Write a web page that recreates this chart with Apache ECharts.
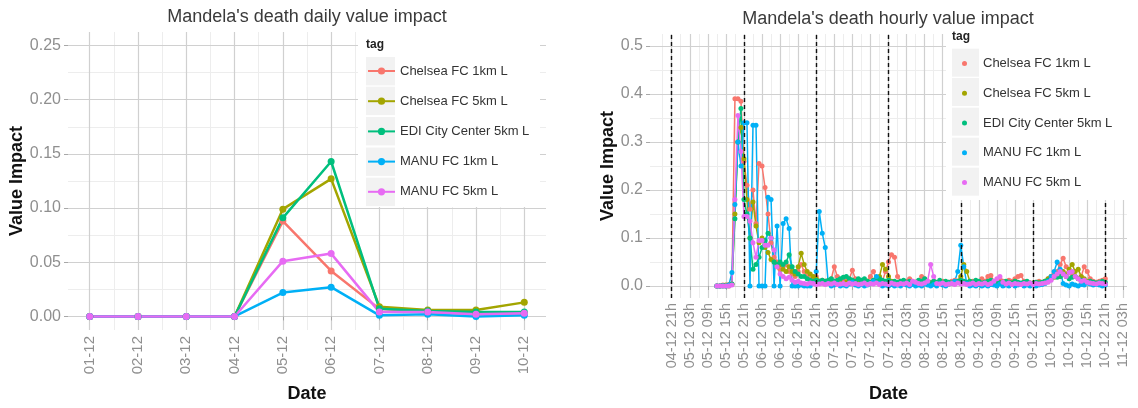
<!DOCTYPE html>
<html>
<head>
<meta charset="utf-8">
<script src="https://cdn.jsdelivr.net/npm/echarts@6/dist/echarts.min.js"></script>
<style>html,body{margin:0;padding:0;background:#fff}#chart{width:1138px;height:408px}</style>
</head>
<body>
<div id="chart"></div>
<script>
// ---- shared series meta ----
const seriesNames = ['Chelsea FC 1km L', 'Chelsea FC 5km L', 'EDI City Center 5km L', 'MANU FC 1km L', 'MANU FC 5km L'];
const seriesColors = ['#F8766D', '#A3A500', '#00BF7D', '#00B0F6', '#E76BF3'];

// ---- daily panel ----
const dailyLabels = ['01-12', '02-12', '03-12', '04-12', '05-12', '06-12', '07-12', '08-12', '09-12', '10-12'];
const dailyChelsea1km = [0, 0, 0, 0, 0.088, 0.042, 0.007, 0.004, 0.002, 0.003];
const dailyChelsea5km = [0, 0, 0, 0, 0.099, 0.127, 0.009, 0.006, 0.006, 0.013];
const dailyEdi5km     = [0, 0, 0, 0, 0.091, 0.143, 0.007, 0.005, 0.004, 0.004];
const dailyManu1km    = [0, 0, 0, 0, 0.022, 0.027, 0.001, 0.002, 0.000, 0.001];
const dailyManu5km    = [0, 0, 0, 0, 0.051, 0.058, 0.004, 0.004, 0.002, 0.003];
const dailyValueTicks = [0, 0.05, 0.10, 0.15, 0.20, 0.25];

// ---- hourly panel (hours counted from 04-12 00h) ----
const hourlyTickHours = [21, 27, 33, 39, 45, 51, 57, 63, 69, 75, 81, 87, 93, 99, 105, 111, 117, 123, 129, 135, 141, 147, 153, 159, 165, 171];
const hourlyTickLabels = ['04-12 21h', '05-12 03h', '05-12 09h', '05-12 15h', '05-12 21h', '06-12 03h', '06-12 09h', '06-12 15h',
  '06-12 21h', '07-12 03h', '07-12 09h', '07-12 15h', '07-12 21h', '08-12 03h', '08-12 09h', '08-12 15h', '08-12 21h',
  '09-12 03h', '09-12 09h', '09-12 15h', '09-12 21h', '10-12 03h', '10-12 09h', '10-12 15h', '10-12 21h', '11-12 03h'];
const deathMarkHours = [21, 45, 69, 93, 117, 141, 165];
const hourlyValueTicks = [0, 0.1, 0.2, 0.3, 0.4, 0.5];
const hourlyFirstHour = 36;

const hourlyChelsea1km = [
  0, 0, 0.002, 0, 0.003, 0.004,
  0.39, 0.39, 0.385, 0.26, 0.21, 0.16,
  0.20, 0.13, 0.255, 0.25, 0.205, 0.15,
  0.09, 0.06, 0.05, 0.035, 0.04, 0.045,
  0.03, 0.025, 0.02, 0.03, 0.045, 0.03,
  0.02, 0.015, 0.01, 0.02, 0.01, 0.012,
  0.01, 0.008, 0.015, 0.04, 0.02, 0.01,
  0.012, 0.01, 0.015, 0.033, 0.015, 0.01,
  0.008, 0.012, 0.01, 0.02, 0.03, 0.012,
  0.015, 0.01, 0.03, 0.05, 0.065, 0.06,
  0.02, 0.01, 0.008, 0.01, 0.015, 0.01,
  0.008, 0.01, 0.02, 0.015, 0.01, 0.008,
  0.01, 0.005, 0.008, 0.01, 0.006, 0.008,
  0.01, 0.012, 0.008, 0.015, 0.01, 0.005,
  0.008, 0.01, 0.006, 0.008, 0.015, 0.01,
  0.02, 0.022, 0.01, 0.008, 0.015, 0.01,
  0.008, 0.012, 0.01, 0.015, 0.02, 0.022,
  0.01, 0.008, 0.006, 0.005, 0.008, 0.01,
  0.008, 0.01, 0.015, 0.02, 0.025, 0.03,
  0.045, 0.058, 0.04, 0.03, 0.025, 0.02,
  0.015, 0.02, 0.04, 0.03, 0.015, 0.01,
  0.008, 0.01, 0.012, 0.015
];
const hourlyChelsea5km = [
  0, 0, 0, 0.002, 0, 0.003,
  0.15, 0.30, 0.33, 0.265, 0.18, 0.10,
  0.175, 0.125, 0.09, 0.10, 0.08, 0.07,
  0.055, 0.05, 0.04, 0.045, 0.035, 0.03,
  0.04, 0.03, 0.025, 0.04, 0.068, 0.045,
  0.03, 0.025, 0.02, 0.015, 0.01, 0.008,
  0.005, 0.006, 0.008, 0.005, 0.01, 0.006,
  0.004, 0.008, 0.006, 0.01, 0.005, 0.008,
  0.006, 0.005, 0.01, 0.008, 0.012, 0.015,
  0.02, 0.045, 0.035, 0.02, 0.01, 0.008,
  0.006, 0.005, 0.008, 0.004, 0.006, 0.005,
  0.004, 0.006, 0.005, 0.008, 0.006, 0.005,
  0.006, 0.004, 0.005, 0.008, 0.006, 0.004,
  0.005, 0.008, 0.01, 0.02, 0.045, 0.03,
  0.01, 0.008, 0.006, 0.005, 0.004, 0.006,
  0.005, 0.004, 0.006, 0.005, 0.008, 0.006,
  0.005, 0.008, 0.006, 0.01, 0.005, 0.004,
  0.006, 0.005, 0.004, 0.006, 0.005, 0.008,
  0.006, 0.01, 0.015, 0.02, 0.018, 0.025,
  0.02, 0.03, 0.025, 0.035, 0.045, 0.03,
  0.035, 0.02, 0.015, 0.01, 0.008, 0.006,
  0.005, 0.006, 0.004, 0.005
];
const hourlyEdi5km = [
  0, 0, 0.001, 0, 0.002, 0.004,
  0.14, 0.30, 0.37, 0.18, 0.15, 0.10,
  0.035, 0.045, 0.06, 0.08, 0.095, 0.11,
  0.10, 0.05, 0.045, 0.05, 0.045, 0.05,
  0.065, 0.04, 0.03, 0.025, 0.02, 0.02,
  0.015, 0.012, 0.01, 0.012, 0.01, 0.012,
  0.01, 0.012, 0.015, 0.01, 0.012, 0.015,
  0.018, 0.02, 0.015, 0.012, 0.01, 0.015,
  0.012, 0.015, 0.01, 0.008, 0.012, 0.01,
  0.015, 0.012, 0.01, 0.012, 0.008, 0.01,
  0.008, 0.01, 0.012, 0.008, 0.01, 0.006,
  0.008, 0.012, 0.01, 0.015, 0.008, 0.006,
  0.01, 0.008, 0.012, 0.006, 0.01, 0.008,
  0.006, 0.008, 0.01, 0.012, 0.01, 0.008,
  0.01, 0.008, 0.012, 0.01, 0.006, 0.008,
  0.01, 0.012, 0.008, 0.01, 0.006, 0.008,
  0.01, 0.008, 0.006, 0.01, 0.008, 0.006,
  0.008, 0.01, 0.006, 0.005, 0.008, 0.006,
  0.008, 0.01, 0.012, 0.015, 0.02, 0.018,
  0.02, 0.025, 0.02, 0.015, 0.018, 0.02,
  0.015, 0.012, 0.01, 0.008, 0.01, 0.008,
  0.006, 0.008, 0.01, 0.008
];
const hourlyManu1km = [
  0, 0, 0, 0, 0.002, 0.028,
  0.17, 0.30, 0.25, 0.34, 0.34, 0,
  0.335, 0.335, 0, 0, 0, 0.185,
  0.18, 0, 0.125, 0, 0.13, 0.14,
  0.12, 0, 0, 0, 0.002, 0,
  0, 0, 0.005, 0.03, 0.155, 0.11,
  0.08, 0.005, 0, 0.002, 0.004, 0,
  0.002, 0, 0.004, 0.008, 0.002, 0,
  0.003, 0, 0.002, 0.005, 0.01, 0.02,
  0.005, 0, 0.002, 0, 0.003, 0,
  0.002, 0, 0.004, 0.002, 0, 0.003,
  0, 0.002, 0, 0.004, 0.002, 0,
  0.003, 0, 0.005, 0.002, 0, 0.004,
  0.005, 0.01, 0.03, 0.085, 0.04, 0.005,
  0, 0.002, 0, 0.003, 0, 0.002,
  0, 0.003, 0.002, 0, 0.004, 0,
  0.002, 0, 0.003, 0, 0.002, 0.004,
  0, 0.002, 0, 0.003, 0, 0.002,
  0.003, 0.005, 0.01, 0.02, 0.03, 0.05,
  0.035, 0.005, 0.002, 0, 0.004, 0.002,
  0, 0.003, 0.002, 0.006, 0.004, 0.002,
  0.003, 0.002, 0, 0.002
];
const hourlyManu5km = [
  0, 0, 0, 0, 0, 0.002,
  0.18, 0.355, 0.28, 0.145, 0.145, 0.135,
  0.09, 0.06, 0.095, 0.095, 0.085, 0.085,
  0.10, 0.075, 0.04, 0.025, 0.02, 0.015,
  0.018, 0.012, 0.008, 0.01, 0.006, 0.005,
  0.004, 0.006, 0.005, 0.003, 0.004, 0.005,
  0.003, 0.005, 0.004, 0.006, 0.003, 0.004,
  0.005, 0.003, 0.006, 0.004, 0.005, 0.003,
  0.004, 0.006, 0.003, 0.005, 0.004, 0.006,
  0.003, 0.005, 0.004, 0.003, 0.006, 0.004,
  0.003, 0.005, 0.004, 0.006, 0.003, 0.01,
  0.008, 0.005, 0.004, 0.006, 0.01, 0.045,
  0.02, 0.005, 0.004, 0.006, 0.003, 0.004,
  0.005, 0.003, 0.006, 0.004, 0.005, 0.003,
  0.004, 0.006, 0.003, 0.005, 0.004, 0.006,
  0.003, 0.005, 0.01, 0.015, 0.02, 0.008,
  0.004, 0.006, 0.003, 0.005, 0.004, 0.003,
  0.005, 0.004, 0.006, 0.003, 0.005, 0.004,
  0.005, 0.006, 0.008, 0.012, 0.02, 0.025,
  0.03, 0.025, 0.02, 0.028, 0.03, 0.02,
  0.015, 0.01, 0.012, 0.008, 0.006, 0.005,
  0.004, 0.006, 0.005, 0.004
];

const dailySeries = [dailyChelsea1km, dailyChelsea5km, dailyEdi5km, dailyManu1km, dailyManu5km];
const hourlySeries = [hourlyChelsea1km, hourlyChelsea5km, hourlyEdi5km, hourlyManu1km, hourlyManu5km];

// ---- styling ----
const FONT = '"Liberation Sans", Arial, Helvetica, sans-serif';
const TICK_TEXT = '#8f8f8f';
const MAJOR_GRID = '#d0d0d0';
const MINOR_GRID = '#ededed';
const KEY_BG = '#f2f2f2';

const midpoints = (arr) => arr.slice(1).map((v, i) => (v + arr[i]) / 2);
const dailyPos = dailyLabels.map((_, i) => i + 1);
const dailyMinor = midpoints(dailyPos);
const dailyValueMinor = midpoints(dailyValueTicks);
const hourlyMinor = [hourlyTickHours[0] - 3].concat(midpoints(hourlyTickHours));
const hourlyValueMinor = midpoints(hourlyValueTicks);

const nameStyle = { fontFamily: FONT, fontWeight: 'bold', fontSize: 18, color: '#111' };

function minorAxis(base, values) {
  return Object.assign({}, base, {
    axisLine: { show: false },
    axisTick: { show: false, customValues: values },
    axisLabel: { show: false, customValues: values },
    splitLine: { show: true, lineStyle: { color: MINOR_GRID, width: 1 } }
  });
}

const xAxes = [
  {
    type: 'value', gridIndex: 0, min: 0.55, max: 10.45,
    axisLine: { show: false },
    axisTick: { show: true, length: 4, lineStyle: { color: '#a8a8a8' }, customValues: dailyPos },
    axisLabel: {
      customValues: dailyPos, rotate: 90, margin: 6, color: TICK_TEXT, fontSize: 15, fontFamily: FONT,
      formatter: (v) => dailyLabels[Math.round(v) - 1]
    },
    splitLine: { show: true, lineStyle: { color: MAJOR_GRID, width: 1.2 } },
    name: 'Date', nameLocation: 'middle', nameGap: 55, nameTextStyle: nameStyle, z: 1
  },
  minorAxis({ type: 'value', gridIndex: 0, min: 0.55, max: 10.45, z: 0 }, dailyMinor),
  {
    type: 'value', gridIndex: 1, min: 13.8, max: 172.2,
    axisLine: { show: false },
    axisTick: { show: true, length: 4, lineStyle: { color: '#a8a8a8' }, customValues: hourlyTickHours },
    axisLabel: {
      customValues: hourlyTickHours, rotate: 90, margin: 5, color: TICK_TEXT, fontSize: 14.5, fontFamily: FONT,
      formatter: (v) => hourlyTickLabels[hourlyTickHours.indexOf(Math.round(v))]
    },
    splitLine: { show: true, lineStyle: { color: MAJOR_GRID, width: 1.2 } },
    name: 'Date', nameLocation: 'middle', nameGap: 87, nameTextStyle: nameStyle, z: 1
  },
  minorAxis({ type: 'value', gridIndex: 1, min: 13.8, max: 172.2, z: 0 }, hourlyMinor)
];

const yAxes = [
  {
    type: 'value', gridIndex: 0, min: -0.0125, max: 0.2625,
    axisLine: { show: false },
    axisTick: { show: true, length: 4, lineStyle: { color: '#a8a8a8' }, customValues: dailyValueTicks },
    axisLabel: { customValues: dailyValueTicks, margin: 7, color: TICK_TEXT, fontSize: 16, fontFamily: FONT, formatter: (v) => v.toFixed(2) },
    splitLine: { show: true, lineStyle: { color: MAJOR_GRID, width: 1.2 } },
    name: 'Value Impact', nameLocation: 'middle', nameGap: 41, nameTextStyle: nameStyle, z: 1
  },
  minorAxis({ type: 'value', gridIndex: 0, min: -0.0125, max: 0.2625, position: 'left', z: 0 }, dailyValueMinor),
  {
    type: 'value', gridIndex: 1, min: -0.025, max: 0.525,
    axisLine: { show: false },
    axisTick: { show: true, length: 4, lineStyle: { color: '#a8a8a8' }, customValues: hourlyValueTicks },
    axisLabel: { customValues: hourlyValueTicks, margin: 7, color: TICK_TEXT, fontSize: 16, fontFamily: FONT, formatter: (v) => v.toFixed(1) },
    splitLine: { show: true, lineStyle: { color: MAJOR_GRID, width: 1.2 } },
    name: 'Value Impact', nameLocation: 'middle', nameGap: 33, nameTextStyle: nameStyle, z: 1
  },
  minorAxis({ type: 'value', gridIndex: 1, min: -0.025, max: 0.525, position: 'left', z: 0 }, hourlyValueMinor)
];

const series = [];
dailySeries.forEach((vals, i) => {
  series.push({
    name: seriesNames[i], type: 'line', xAxisIndex: 0, yAxisIndex: 0,
    data: vals.map((v, k) => [dailyPos[k], v]),
    symbol: 'circle', symbolSize: 7, showAllSymbol: true,
    lineStyle: { width: 2.5, color: seriesColors[i] },
    itemStyle: { color: seriesColors[i] },
    z: 2
  });
});
hourlySeries.forEach((vals, i) => {
  const s = {
    name: seriesNames[i], type: 'line', xAxisIndex: 2, yAxisIndex: 2,
    data: vals.map((v, k) => [hourlyFirstHour + k, v]),
    symbol: 'circle', symbolSize: 5, showAllSymbol: true,
    lineStyle: { width: 1.5, color: seriesColors[i] },
    itemStyle: { color: seriesColors[i] },
    z: 2
  };
  if (i === 0) {
    s.markLine = {
      silent: true, symbol: ['none', 'none'], label: { show: false },
      lineStyle: { color: '#111', type: [4, 3], width: 1.4 },
      data: deathMarkHours.map((h) => ({ xAxis: h }))
    };
  }
  series.push(s);
});

// legend panels drawn inside the plots
const leftKeyRows = [71, 100.7, 131, 161.5, 191.7];
const rightKeyRows = [62.7, 92, 121.7, 151.7, 181.7];
const TITLE_FONT = '18px ' + FONT;
const graphics = [
  { type: 'text', x: 307, y: 17, z: 30, style: { text: "Mandela's death daily value impact", font: TITLE_FONT, fill: '#3a3a3a', align: 'center', verticalAlign: 'middle' } },
  { type: 'text', x: 888, y: 19, z: 30, style: { text: "Mandela's death hourly value impact", font: TITLE_FONT, fill: '#3a3a3a', align: 'center', verticalAlign: 'middle' } },
  { type: 'rect', z: 20, shape: { x: 358, y: 30, width: 182, height: 177 }, style: { fill: '#ffffff' } },
  { type: 'rect', z: 20, shape: { x: 946, y: 28, width: 182, height: 172 }, style: { fill: '#ffffff' } },
  { type: 'text', x: 366, y: 45, z: 30, style: { text: 'tag', font: 'bold 12px ' + FONT, fill: '#222', align: 'left', verticalAlign: 'middle' } },
  { type: 'text', x: 952, y: 37, z: 30, style: { text: 'tag', font: 'bold 12px ' + FONT, fill: '#222', align: 'left', verticalAlign: 'middle' } }
];
leftKeyRows.forEach((cy) => graphics.push({ type: 'rect', z: 21, shape: { x: 366, y: cy - 14, width: 29, height: 28.4 }, style: { fill: KEY_BG } }));
rightKeyRows.forEach((cy) => graphics.push({ type: 'rect', z: 21, shape: { x: 952, y: cy - 14, width: 27, height: 28 }, style: { fill: KEY_BG } }));

const chart = echarts.init(document.getElementById('chart'), null, { renderer: 'canvas' });
chart.setOption({
  animation: false,
  backgroundColor: '#ffffff',
  grid: [
    { left: 68, right: 592, top: 32, bottom: 76 },
    { left: 650, right: 11, top: 34, bottom: 109 }
  ],
  xAxis: xAxes,
  yAxis: yAxes,
  legend: [
    {
      data: seriesNames, orient: 'vertical', left: 367, top: 64, padding: 0,
      itemWidth: 27, itemHeight: 9, itemGap: 16.2, z: 40, selectedMode: false,
      textStyle: { fontFamily: FONT, fontSize: 13, color: '#333', lineHeight: 14 }
    },
    {
      data: seriesNames.map((n) => ({ name: n, icon: 'circle' })), orient: 'vertical', left: 962, top: 56.5, padding: 0,
      itemWidth: 5, itemHeight: 5, itemGap: 15.75, z: 40, selectedMode: false,
      textStyle: { fontFamily: FONT, fontSize: 13, color: '#333', lineHeight: 14, padding: [0, 0, 0, 11] }
    }
  ],
  graphic: { elements: graphics },
  series: series
});
</script>
</body>
</html>
